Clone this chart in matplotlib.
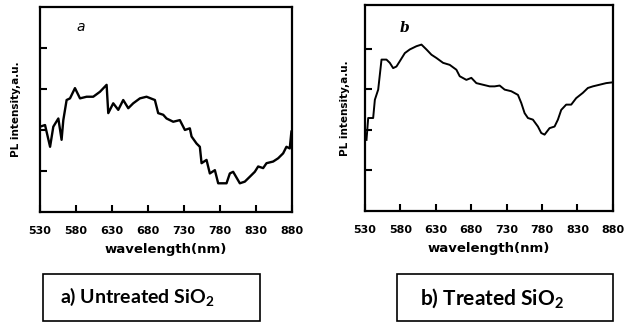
import numpy as np
import matplotlib.pyplot as plt
from matplotlib.patches import Rectangle

plt.rcParams['mathtext.fontset'] = 'custom'
plt.rcParams['mathtext.rm'] = 'Lato'
plt.rcParams['mathtext.bf'] = 'Lato:bold'

# data
wl_a = [530, 537, 544, 548.5, 555.5, 560, 562.4, 567, 571.7, 578.6, 585.6, 594.8, 604,
        613.3, 622.6, 624.9, 631.8, 638.8, 645.7, 652.7, 659.6, 668.9, 678.1, 689.7,
        694.3, 701.3, 705.9, 715.2, 724.4, 731.4, 738.3, 740.7, 747.6, 752.2, 754.6,
        761.5, 766.1, 773.1, 777.7, 789.3, 793.9, 798.5, 807.8, 814.7, 821.7, 828.6,
        833.3, 840.2, 844.9, 854.1, 861.1, 868, 872.6, 877.2, 879.5]
pl_a = [2.08, 2.12, 1.59, 2.08, 2.28, 1.76, 2.24, 2.73, 2.77, 3.02, 2.77, 2.81, 2.81,
        2.93, 3.10, 2.41, 2.65, 2.49, 2.73, 2.53, 2.65, 2.77, 2.81, 2.73,
        2.41, 2.37, 2.28, 2.20, 2.24, 2.00, 2.04, 1.84, 1.67, 1.59, 1.19,
        1.27, 0.94, 1.02, 0.70, 0.70, 0.94, 0.98, 0.70, 0.74, 0.86, 0.98,
        1.11, 1.07, 1.19, 1.23, 1.31, 1.43, 1.59, 1.55, 1.96]

wl_b = [532.3, 534.7, 541.7, 544.1, 548.8, 553.5, 560.5, 565.2, 569.9, 574.6, 579.3,
        586.4, 593.4, 602.8, 609.9, 616.9, 624, 631, 640.4, 649.8, 659.2, 663.9, 673.3,
        680.3, 687.4, 696.8, 706.2, 713.2, 720.3, 727.3, 736.7, 746.1, 750.8, 755.5,
        760.2, 767.2, 774.3, 779, 783.7, 790.7, 797.8, 802.5, 807.2, 814.2, 821.3,
        828.3, 837.7, 844.8, 851.8, 861.2, 870.6, 880]
pl_b = [1.75, 2.29, 2.29, 2.74, 2.99, 3.73, 3.73, 3.65, 3.52, 3.56, 3.69,
        3.89, 3.98, 4.06, 4.10, 3.98, 3.85, 3.77, 3.65, 3.60, 3.48, 3.32, 3.23,
        3.28, 3.15, 3.11, 3.07, 3.07, 3.09, 2.99, 2.95, 2.86, 2.66, 2.41,
        2.29, 2.25, 2.08, 1.92, 1.88, 2.04, 2.08, 2.25, 2.49, 2.62, 2.62,
        2.78, 2.91, 3.03, 3.07, 3.11, 3.15, 3.17]

xticks = [530, 580, 630, 680, 730, 780, 830, 880]
yticks = [1, 2, 3, 4]

fig = plt.figure(figsize=(6.39, 3.22), dpi=100)

ax1 = fig.add_axes([0.0626, 0.3416, 0.394, 0.637])
ax2 = fig.add_axes([0.571, 0.345, 0.388, 0.640])

panels = [(ax1, wl_a, pl_a, 'a', 1.7, 5.0, 4),
          (ax2, wl_b, pl_b, 'b', 1.4, 5.08, 0.5)]

for ax, wl, pl, tag, lw, ytop, ypad in panels:
    ax.plot(wl, pl, color='black', lw=lw)
    ax.set_xlim(530, 880)
    ax.set_ylim(0, ytop)
    ax.set_xticks(xticks)
    ax.set_xticklabels([str(t) for t in xticks], fontsize=8, fontweight='bold')
    ax.set_yticks(yticks)
    ax.set_yticklabels([])
    ax.tick_params(direction='in', length=5, width=1.5, top=False, right=False, pad=10)
    for s in ax.spines.values():
        s.set_linewidth(1.6)
    ax.set_xlabel('wavelength(nm)', fontsize=9.5, fontweight='bold', labelpad=5)
    ax.set_ylabel('PL intensity,a.u.', fontsize=7.5, fontweight='bold', labelpad=ypad)
    ax.text(586, 4.5, tag, fontsize=10, style='italic',
            fontweight='bold' if tag == 'b' else 'normal',
            family='serif' if tag == 'b' else 'sans-serif', ha='center', va='center')

# caption boxes
fig.patches.append(Rectangle((0.0673, 0.003), 0.3396, 0.146, transform=fig.transFigure,
                             fill=False, edgecolor='black', lw=1.2))
fig.patches.append(Rectangle((0.6213, 0.003), 0.338, 0.146, transform=fig.transFigure,
                             fill=False, edgecolor='black', lw=1.2))
fig.text(0.215, 0.078, r'a) Untreated SiO$_\mathbf{2}$', fontsize=14, fontweight='bold',
         family='Lato', ha='center', va='center')
fig.text(0.770, 0.072, r'b) Treated SiO$_\mathbf{2}$', fontsize=15, fontweight='bold',
         family='Lato', ha='center', va='center')

fig.savefig('out.png', dpi=100)
